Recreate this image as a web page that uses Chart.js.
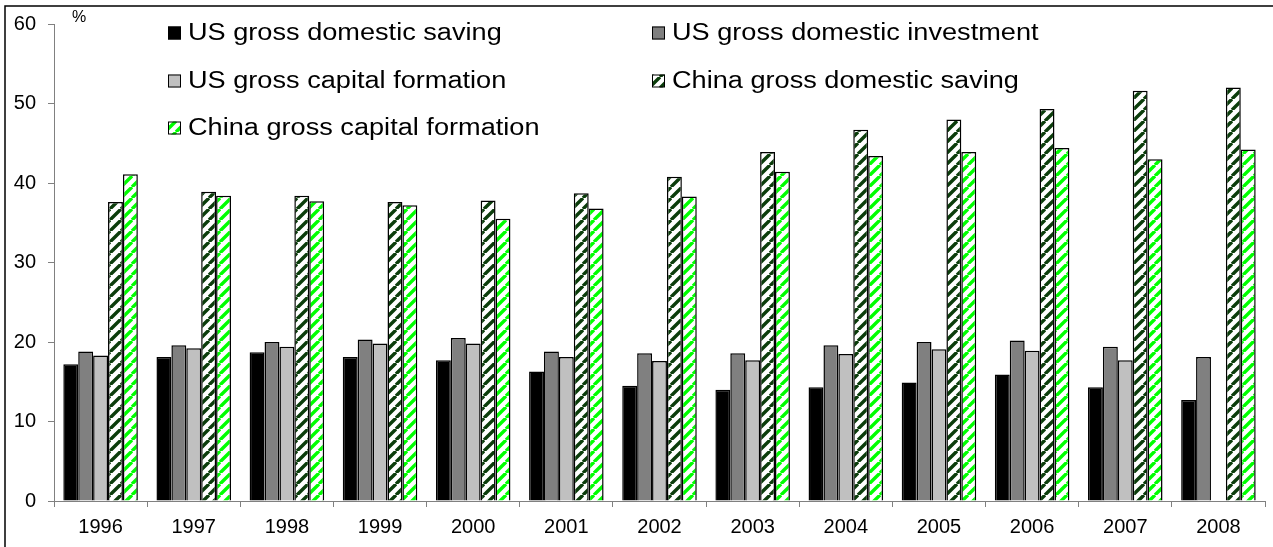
<!DOCTYPE html>
<html>
<head>
<meta charset="utf-8">
<script src="https://cdn.jsdelivr.net/npm/chart.js@4/dist/chart.umd.min.js"></script>
<style>
    html, body { margin: 0; padding: 0; background: #fff; }
    #wrap { position: relative; width: 1273px; height: 547px; }
</style>
</head>
<body>
<div id="wrap"><canvas id="chartCanvas" width="1273" height="547"></canvas></div>
<script>
// values (% of GDP)
const years = ['1996', '1997', '1998', '1999', '2000', '2001', '2002', '2003', '2004', '2005', '2006', '2007', '2008'];
const usSaving = [17.2, 18.1, 18.7, 18.1, 17.7, 16.3, 14.5, 14.0, 14.3, 14.9, 15.9, 14.3, 12.7];
const usInvestment = [18.8, 19.6, 20.0, 20.3, 20.5, 18.8, 18.6, 18.6, 19.6, 20.0, 20.2, 19.4, 18.1];
const usCapital = [18.3, 19.2, 19.4, 19.8, 19.8, 18.1, 17.6, 17.7, 18.5, 19.1, 18.9, 17.7, null];
const chinaSaving = [37.6, 38.9, 38.4, 37.6, 37.8, 38.7, 40.8, 43.9, 46.7, 48.0, 49.3, 51.6, 52.0];
const chinaCapital = [41.1, 38.4, 37.7, 37.2, 35.5, 36.8, 38.3, 41.4, 43.4, 43.9, 44.4, 43.0, 44.2];
const seriesNames = [
    'US gross domestic saving',
    'US gross domestic investment',
    'US gross capital formation',
    'China gross domestic saving',
    'China gross capital formation'
];
const yTicks = [0, 10, 20, 30, 40, 50, 60];

const FONT = '"Liberation Sans", Arial, sans-serif';

// white tile with "/" stripes
function stripePattern(color) {
    const size = 11;
    const tile = document.createElement('canvas');
    tile.width = size;
    tile.height = size;
    const c = tile.getContext('2d');
    c.fillStyle = '#fff';
    c.fillRect(0, 0, size, size);
    c.strokeStyle = color;
    c.lineWidth = 3.4;
    c.beginPath();
    for (let k = -1; k <= 1; k++) {
        c.moveTo(k * size, size);
        c.lineTo(k * size + size, 0);
    }
    c.stroke();
    return c.createPattern(tile, 'repeat');
}

const ctx = document.getElementById('chartCanvas').getContext('2d');

// legend is inside the plot, two columns, like the Excel original
const insideLegend = {
    id: 'insideLegend',
    afterDraw(chart) {
        const c = chart.ctx;
        const cols = [168, 652];
        const rows = [33, 81, 128];
        c.save();
        // frame of the original picture (left and top edges only are visible)
        c.strokeStyle = '#000';
        c.lineWidth = 1.5;
        c.beginPath();
        c.moveTo(5, 547);
        c.lineTo(5, 6);
        c.lineTo(1273, 6);
        c.stroke();

        c.fillStyle = '#000';
        c.font = '16px ' + FONT;
        c.textBaseline = 'middle';
        c.textAlign = 'left';
        c.fillText('%', 72, 18);

        chart.data.datasets.forEach((ds, i) => {
            const x = cols[i % 2];
            const y = rows[Math.floor(i / 2)];
            c.fillStyle = ds.backgroundColor;
            c.fillRect(x, y - 6.5, 13, 13);
            c.strokeStyle = '#000';
            c.lineWidth = 1;
            c.strokeRect(x + 0.5, y - 6, 12, 12);
            c.save();
            c.translate(x + 20, y);
            c.scale(1.18, 1);
            c.fillStyle = '#000';
            c.font = '23px ' + FONT;
            c.fillText(ds.label, 0, 1);
            c.restore();
        });
        c.restore();
    }
};

const colors = ['#000000', '#808080', '#c0c0c0', stripePattern('#0b3d0b'), stripePattern('#00ff00')];
const values = [usSaving, usInvestment, usCapital, chinaSaving, chinaCapital];

const datasets = seriesNames.map((name, i) => ({
    label: name,
    data: values[i],
    backgroundColor: colors[i],
    borderColor: '#000',
    borderWidth: 1.5,
    borderSkipped: 'bottom',
    categoryPercentage: 0.8,
    barPercentage: 1.0
}));

new Chart(ctx, {
    type: 'bar',
    data: { labels: years, datasets },
    options: {
        responsive: false,
        animation: false,
        layout: { padding: { left: 0, right: 8, top: 24, bottom: 0 } },
        plugins: {
            legend: { display: false },
            tooltip: { enabled: false }
        },
        scales: {
            x: {
                grid: {
                    offset: true,
                    drawOnChartArea: false,
                    drawTicks: true,
                    tickLength: 6,
                    color: '#808080'
                },
                border: { color: '#808080', width: 1 },
                ticks: {
                    color: '#000',
                    font: { family: FONT, size: 20 },
                    padding: 8,
                    maxRotation: 0
                },
                afterFit(scale) { scale.height = 46; }
            },
            y: {
                min: 0,
                max: 60,
                afterBuildTicks(scale) { scale.ticks = yTicks.map(v => ({ value: v })); },
                grid: {
                    drawOnChartArea: false,
                    drawTicks: true,
                    tickLength: 6,
                    color: '#808080'
                },
                border: { color: '#808080', width: 1 },
                ticks: {
                    color: '#000',
                    font: { family: FONT, size: 20 },
                    padding: 12
                },
                afterFit(scale) { scale.width = 54; }
            }
        }
    },
    plugins: [insideLegend]
});
</script>
</body>
</html>
